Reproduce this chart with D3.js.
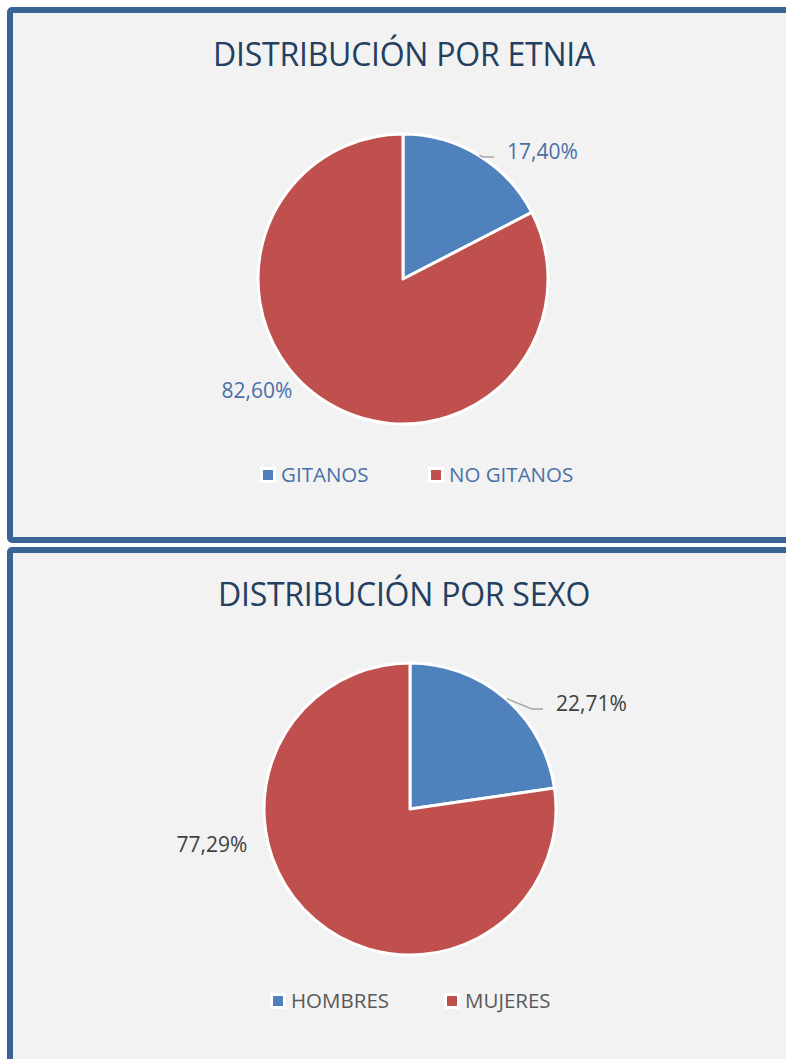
<!DOCTYPE html>
<html>
<head>
<meta charset="utf-8">
<script src="https://cdn.jsdelivr.net/npm/d3@7"></script>
<style>
  body { margin: 0; background: #fff; }
  svg { display: block; font-family: "Open Sans", sans-serif; }
</style>
</head>
<body>
<div id="container"></div>
<script>
const w = 786;
const h = 1059;

// chart 1
const etniaTitle = "DISTRIBUCIÓN POR ETNIA";
const etniaCats = ["GITANOS", "NO GITANOS"];
const etniaValues = [17.40, 82.60];
const etniaLabels = ["17,40%", "82,60%"];

// chart 2
const sexoTitle = "DISTRIBUCIÓN POR SEXO";
const sexoCats = ["HOMBRES", "MUJERES"];
const sexoValues = [22.71, 77.29];
const sexoLabels = ["22,71%", "77,29%"];

const colors = ["#4f81bd", "#c0504d"];

const svg = d3.select("#container").append("svg")
  .attr("width", w).attr("height", h);

svg.append("rect").attr("width", w).attr("height", h).attr("fill", "#fff");

// layout for each panel (Excel style positions)
const panels = [
  {
    title: etniaTitle, cats: etniaCats, values: etniaValues, labels: etniaLabels,
    top: 10, bottom: 540, titleY: 66, cx: 403, cy: 279, r: 145,
    textColor: "#4a70a8", legendColor: "#4a70a8", legendY: 475,
    legendX: [268, 436],
    labelPos: [{ dx: 104, dy: -120, anchor: "start" }, { dx: -146, dy: 119, anchor: "middle" }],
    leader: [true, false]
  },
  {
    title: sexoTitle, cats: sexoCats, values: sexoValues, labels: sexoLabels,
    top: 550, bottom: 1200, titleY: 606, cx: 410, cy: 809, r: 146,
    textColor: "#404040", legendColor: "#595959", legendY: 1001,
    legendX: [278, 452],
    labelPos: [{ dx: 146, dy: -98, anchor: "start" }, { dx: -198, dy: 43, anchor: "middle" }],
    leader: [true, false]
  }
];

panels.forEach(function (p) {
  svg.append("rect")
    .attr("x", 10).attr("y", p.top)
    .attr("width", 820).attr("height", p.bottom - p.top)
    .attr("rx", 2)
    .attr("fill", "#f2f2f2")
    .attr("stroke", "#3b6496")
    .attr("stroke-width", 6);

  svg.append("text")
    .attr("x", 404).attr("y", p.titleY)
    .attr("text-anchor", "middle")
    .attr("font-size", 32)
    .attr("letter-spacing", -0.25)
    .attr("fill", "#243f60")
    .text(p.title);

  const pie = d3.pie().sort(null).value(d => d);
  const arcs = pie(p.values);
  const arc = d3.arc().innerRadius(0).outerRadius(p.r);

  const g = svg.append("g").attr("transform", "translate(" + p.cx + "," + p.cy + ")");
  g.selectAll("path").data(arcs).enter().append("path")
    .attr("d", arc)
    .attr("fill", (d, i) => colors[i])
    .attr("stroke", "#fff")
    .attr("stroke-width", 3)
    .attr("stroke-linejoin", "round");

  arcs.forEach(function (d, i) {
    const lp = p.labelPos[i];
    g.append("text")
      .attr("x", lp.dx).attr("y", lp.dy)
      .attr("text-anchor", lp.anchor)
      .attr("font-size", 21)
      .attr("fill", p.textColor)
      .text(p.labels[i]);
    if (p.leader[i]) {
      const mid = (d.startAngle + d.endAngle) / 2;
      const ex = p.r * Math.sin(mid), ey = -p.r * Math.cos(mid);
      const kx = lp.dx - 14;
      const ky = lp.dy - 2;
      g.append("polyline")
        .attr("points", [[ex + 1, ey], [kx - 10, ky], [kx + 1, ky]].map(q => q.join(",")).join(" "))
        .attr("fill", "none")
        .attr("stroke", "#a6a6a6")
        .attr("stroke-width", 1.5);
    }
  });

  p.cats.forEach(function (c, i) {
    const lx = p.legendX[i];
    svg.append("rect")
      .attr("x", lx - 8).attr("y", p.legendY - 8)
      .attr("width", 16).attr("height", 16)
      .attr("fill", "#fff");
    svg.append("rect")
      .attr("x", lx - 5).attr("y", p.legendY - 5)
      .attr("width", 10).attr("height", 10)
      .attr("fill", colors[i]);
    svg.append("text")
      .attr("x", lx + 13).attr("y", p.legendY + 7)
      .attr("font-size", 20.5)
      .attr("fill", p.legendColor)
      .text(c);
  });
});
</script>
</body>
</html>
